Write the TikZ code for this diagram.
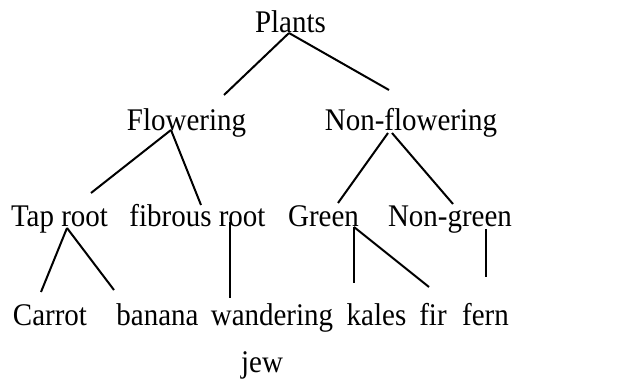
\documentclass[tikz,border=0pt]{standalone}
\usepackage{fontspec}
\setmainfont{Liberation Serif}
\newfontfamily\treefont[FakeStretch=0.92]{Liberation Serif}
\begin{document}
\begin{tikzpicture}[x=1pt,y=-1pt,
  lbl/.style={anchor=base,inner sep=0pt,font=\treefont\fontsize{31.5}{34}\selectfont},
  edge/.style={line width=2pt}]
\useasboundingbox[fill=white] (0,0) rectangle (634,379);
% labels
\node[lbl] (plants) at (290.5,33) {Plants};
\node[lbl] (flow) at (186.5,131) {Flowering};
\node[lbl] (nonflow) at (411,131) {Non-flowering};
\node[lbl] (tap) at (59.5,227) {Tap root};
\node[lbl] (fib) at (197.5,227) {fibrous root};
\node[lbl] (green) at (323.5,227) {Green};
\node[lbl] (nongreen) at (450,227) {Non-green};
\node[lbl] (carrot) at (50,325) {Carrot};
\node[lbl] (banana) at (157.5,325) {banana};
\node[lbl] (wand) at (272,325) {wandering};
\node[lbl] (jew) at (262,372) {jew};
\node[lbl] (kales) at (376.5,325) {kales};
\node[lbl] (fir) at (433,325) {fir};
\node[lbl] (fern) at (485.5,325) {fern};
% connector ends
\coordinate (plantsB) at (289,33);
\coordinate (flowT) at (224,95);
\coordinate (nonflowT) at (389,90);
\coordinate (flowB) at (171,130);
\coordinate (tapT) at (91,193);
\coordinate (fibT) at (201,205);
\coordinate (nonflowBL) at (388,133);
\coordinate (nonflowBR) at (392,133);
\coordinate (greenT) at (338,203);
\coordinate (nongreenT) at (453,204);
\coordinate (tapB) at (67,228);
\coordinate (carrotT) at (41,292);
\coordinate (bananaT) at (114,290);
\coordinate (fibB) at (230,222);
\coordinate (wandT) at (230,298);
\coordinate (greenB) at (354,227);
\coordinate (kalesT) at (354,283);
\coordinate (firT) at (429,287);
\coordinate (nongreenB) at (486,229);
\coordinate (fernT) at (486,277);
% connectors
\draw[edge] (plantsB) -- (flowT);
\draw[edge] (plantsB) -- (nonflowT);
\draw[edge] (flowB) -- (tapT);
\draw[edge] (flowB) -- (fibT);
\draw[edge] (nonflowBL) -- (greenT);
\draw[edge] (nonflowBR) -- (nongreenT);
\draw[edge] (tapB) -- (carrotT);
\draw[edge] (tapB) -- (bananaT);
\draw[edge] (fibB) -- (wandT);
\draw[edge] (greenB) -- (kalesT);
\draw[edge] (greenB) -- (firT);
\draw[edge] (nongreenB) -- (fernT);
\end{tikzpicture}
\end{document}
